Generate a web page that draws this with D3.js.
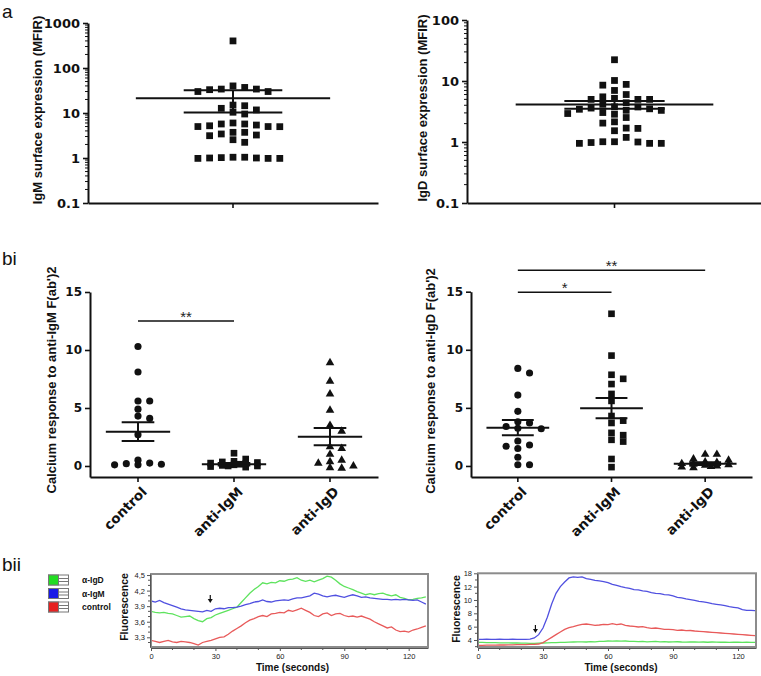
<!DOCTYPE html>
<html><head><meta charset="utf-8">
<script src="https://cdn.jsdelivr.net/npm/d3@7"></script>
<style>
html,body{margin:0;padding:0;background:#fff;}
svg{display:block;}
</style></head><body>
<svg id="fig" width="761" height="676"></svg>
<script>
// ================= DATA =================
// Panel a: surface expression (MFIR), log scale
const igmMFIR = [400, 40, 37, 34, 34, 33, 30, 30, 15, 14.5, 12.7, 11.7, 10.4, 9.5,
  6.0, 5.7, 5.7, 5.4, 5.2, 5.0, 5.0, 4.97, 3.72, 3.72, 3.42, 3.24, 3.13, 2.55, 2.23,
  1.04, 1.04, 1.02, 1.0, 1.0, 0.98, 0.98, 0.98];
const igdMFIR = [22.3, 10.2, 8.8, 8.55, 7.0, 6.0, 5.5, 5.2, 5.0, 5.0, 5.0, 4.4, 4.15,
  3.77, 3.75, 3.6, 3.5, 3.44, 3.31, 3.3, 3.04, 2.93, 2.85, 2.52, 2.14, 2.04, 1.69, 1.67,
  1.53, 1.19, 1.01, 1.01, 1.0, 0.98, 0.95, 0.95, 0.95];
const meanA = [21.2, 4.1];
const semA = [11, 0.6];
const ticksIgM = [0.1, 1, 10, 100, 1000];
const ticksIgD = [0.1, 1, 10, 100];

// Panel bi: calcium responses
const categories = ["control", "anti-IgM", "anti-IgD"];
const biL_control = [10.3, 8.1, 5.6, 5.6, 4.9, 4.3, 4.1, 2.7, 0.5, 0.25, 0.2, 0.15, 0.1, 0.1];
const biL_antiIgM = [1.1, 0.6, 0.4, 0.35, 0.3, 0.25, 0.2, 0.15, 0.1, 0.05, 0.0, 0.0, -0.05, -0.1];
const biL_antiIgD = [8.9, 7.3, 6.2, 4.8, 3.5, 3.0, 1.65, 1.5, 1.0, 0.5, 0.37, 0.23, 0.0, -0.15, -0.2];
const biL_mean = [2.96, 0.15, 2.53];
const biL_sem = [0.8, 0.1, 0.75];
const biR_control = [8.4, 8.0, 6.1, 4.7, 3.8, 3.7, 3.4, 3.25, 3.2, 2.15, 1.8, 1.7, 1.5, 0.75, 0.1, 0.1];
const biR_antiIgM = [13.1, 9.5, 7.85, 7.5, 7.05, 6.2, 5.6, 4.3, 3.9, 3.7, 2.85, 2.65, 2.25, 2.1, 0.6, -0.1];
const biR_antiIgD = [1.0, 1.0, 0.6, 0.5, 0.35, 0.3, 0.2, 0.15, 0.1, 0.05, 0.0, -0.05, -0.1, -0.15];
const biR_mean = [3.3, 4.97, 0.2];
const biR_sem = [0.65, 0.87, 0.12];
const ticksBi = [0, 5, 10, 15];
const sigL = [["control", "anti-IgM", 12.5, "**"]];
const sigR = [["control", "anti-IgM", 14.95, "*"], ["control", "anti-IgD", 16.85, "**"]];

// Panel bii: fluorescence traces
const seconds = [0,2,4,6,8,10,12,14,16,18,20,22,24,26,28,30,32,34,36,38,40,42,44,46,48,50,52,54,56,58,60,62,64,66,68,70,72,74,76,78,80,82,84,86,88,90,92,94,96,98,100,102,104,106,108,110,112,114,116,118,120,122,124,126,128];
const leftIgD = [3.80,3.78,3.77,3.78,3.76,3.75,3.72,3.69,3.70,3.71,3.66,3.62,3.60,3.66,3.68,3.73,3.76,3.79,3.82,3.85,3.88,3.97,4.06,4.15,4.22,4.28,4.35,4.33,4.36,4.35,4.39,4.38,4.41,4.42,4.45,4.40,4.38,4.40,4.37,4.40,4.43,4.48,4.46,4.40,4.33,4.28,4.25,4.22,4.18,4.15,4.12,4.14,4.12,4.14,4.15,4.12,4.10,4.12,4.07,4.05,4.02,4.03,4.05,4.06,4.08];
const leftIgM = [4.00,3.98,4.01,3.97,3.94,3.91,3.88,3.85,3.83,3.82,3.81,3.80,3.79,3.82,3.80,3.85,3.86,3.85,3.87,3.87,3.88,3.90,3.93,3.95,3.98,3.99,4.02,3.99,3.98,4.00,4.01,4.02,4.01,4.04,4.06,4.06,4.08,4.10,4.15,4.13,4.10,4.08,4.10,4.11,4.09,4.07,4.10,4.12,4.10,4.07,4.08,4.06,4.05,4.04,4.03,4.03,4.02,4.03,4.02,4.03,4.02,4.01,4.02,3.98,3.94];
const leftCtrl = [3.24,3.22,3.20,3.22,3.24,3.21,3.20,3.22,3.21,3.20,3.18,3.15,3.20,3.22,3.24,3.27,3.30,3.31,3.36,3.42,3.47,3.52,3.58,3.63,3.66,3.70,3.72,3.70,3.75,3.76,3.78,3.77,3.82,3.80,3.83,3.86,3.82,3.78,3.72,3.70,3.75,3.77,3.72,3.75,3.76,3.72,3.70,3.71,3.69,3.71,3.68,3.65,3.60,3.56,3.52,3.48,3.50,3.44,3.41,3.42,3.40,3.44,3.46,3.49,3.52];
const rightIgD = [3.65,3.63,3.62,3.60,3.60,3.58,3.57,3.56,3.55,3.55,3.54,3.52,3.50,3.50,3.52,3.55,3.58,3.60,3.62,3.63,3.65,3.68,3.70,3.72,3.72,3.70,3.75,3.72,3.80,3.78,3.85,3.82,3.88,3.82,3.85,3.80,3.78,3.75,3.80,3.72,3.75,3.78,3.72,3.75,3.70,3.72,3.74,3.70,3.68,3.72,3.70,3.68,3.70,3.66,3.70,3.68,3.66,3.68,3.65,3.68,3.66,3.65,3.66,3.64,3.65];
const rightIgM = [4.10,4.10,4.12,4.10,4.10,4.12,4.10,4.10,4.12,4.10,4.10,4.10,4.12,4.30,4.80,5.80,7.40,9.40,11.0,12.0,12.7,13.3,13.45,13.4,13.45,13.2,13.1,12.95,12.85,12.75,12.6,12.35,12.2,12.0,11.85,11.75,11.55,11.5,11.35,11.3,11.1,11.0,10.95,10.8,10.75,10.6,10.4,10.3,10.15,10.05,9.95,9.8,9.7,9.6,9.45,9.35,9.25,9.15,9.0,8.9,8.8,8.55,8.45,8.45,8.4];
const rightCtrl = [3.20,3.20,3.22,3.22,3.24,3.25,3.25,3.27,3.28,3.30,3.30,3.32,3.33,3.35,3.40,3.60,4.00,4.40,4.80,5.20,5.60,5.85,6.00,6.20,6.35,6.40,6.30,6.20,6.25,6.35,6.30,6.45,6.30,6.40,6.20,6.10,6.05,5.95,6.00,5.85,5.75,5.80,5.70,5.60,5.60,5.55,5.45,5.50,5.40,5.42,5.35,5.30,5.25,5.20,5.15,5.10,5.05,5.00,4.95,4.90,4.85,4.80,4.75,4.70,4.65];
const legendLabels = ["α-IgD", "α-IgM", "control"];
const ticksBiiLeft = [3.3, 3.6, 3.9, 4.2, 4.5];
const ticksBiiRight = [4, 6, 8, 10, 12, 14];
const tickLabelsBiiRight = ["4", "6", "8", "10", "12", "18"];
const ticksTime = [0, 30, 60, 90, 120];
const arrowLeft = [27.6, 3.96];
const arrowRight = [26.5, 5.05];

// ================= DRAWING =================
const svg = d3.select("#fig");
const ARIAL = "'Liberation Sans', Arial, Helvetica, sans-serif";
const WIDE = "'DejaVu Sans', Verdana, sans-serif";

// column-scatter layout: fill nearest free slot, overlap allowed past maxOff
function swarm(vals, yS, cx, step, cw, ch, maxOff) {
  const placed = [], out = [];
  const cands = [0];
  for (let k = 1; k * step <= maxOff + 1e-6; k++) cands.push(k * step, -k * step);
  vals.forEach(v => {
    const y = yS(v);
    let best = null, bestScore = -1;
    for (const off of cands) {
      let score = Infinity;
      placed.forEach(p => {
        const s = Math.max(Math.abs(p.off - off) / cw, Math.abs(p.y - y) / ch);
        if (s < score) score = s;
      });
      if (score >= 1 - 1e-6) { best = off; break; }
      if (score > bestScore + 1e-6) { bestScore = score; best = off; }
    }
    placed.push({off: best, y});
    out.push({v, x: cx + best, y});
  });
  return out;
}

function panelLabel(txt, x, y) {
  svg.append("text").attr("x", x).attr("y", y).text(txt)
    .attr("font-family", ARIAL).attr("font-size", 19).attr("fill", "#111");
}

function styleAxis(g, fs) {
  g.select(".domain").attr("stroke", "#111").attr("stroke-width", 2);
  g.selectAll(".tick line").attr("stroke", "#111").attr("stroke-width", 1.6);
  g.selectAll(".tick text").attr("font-family", WIDE).attr("font-weight", "bold")
    .attr("font-size", fs).attr("fill", "#111");
}

function scatterPanel(cfg) {
  const y = cfg.y, x = cfg.x;
  const gy = svg.append("g").attr("transform", `translate(${x.range()[0]},0)`)
    .call(d3.axisLeft(y).tickValues(cfg.ticks).tickFormat(d3.format("~g"))
      .tickSize(5).tickSizeOuter(0).tickPadding(3));
  styleAxis(gy, cfg.fs);
  if (cfg.minor) {
    gy.selectAll(".minor").data(cfg.minor).join("line")
      .attr("x1", -3).attr("x2", 0).attr("y1", d => y(d)).attr("y2", d => y(d))
      .attr("stroke", "#111").attr("stroke-width", 1);
  }
  const gx = svg.append("g").attr("transform", `translate(0,${y.range()[0]})`)
    .call(d3.axisBottom(x).tickSize(5).tickSizeOuter(0).tickFormat(""));
  styleAxis(gx, cfg.fs);
  if (cfg.catLabels) {
    gx.selectAll(".tick").append("text")
      .attr("transform", "translate(3,9) rotate(-45)")
      .attr("text-anchor", "end").attr("dy", "0.7em")
      .attr("font-family", WIDE).attr("font-weight", "bold").attr("font-size", 13.5)
      .attr("fill", "#111").text(d => d);
  }
  svg.append("text")
    .attr("transform", `translate(${cfg.labelX},${cfg.labelY}) rotate(-90)`)
    .attr("text-anchor", "middle").attr("font-family", ARIAL).attr("font-weight", "bold")
    .attr("font-size", 13).attr("fill", "#111").text(cfg.label);

  const bw = x.bandwidth();
  cfg.groups.forEach((vals, i) => {
    const cx = x(x.domain()[i]) + bw / 2;
    const pts = swarm(vals, y, cx, 5.85, 11.2, cfg.ch, cfg.maxOff);
    const sym = d3.symbol().type(cfg.symbols[i]).size(cfg.sizes[i]);
    svg.append("g").selectAll("path").data(pts).join("path")
      .attr("transform", d => `translate(${d.x},${d.y})`).attr("d", sym).attr("fill", "#111");
    const m = cfg.means[i], s = cfg.sems[i];
    const mw = bw * 0.335, sw = bw * 0.17;
    const g = svg.append("g").attr("stroke", "#111").attr("stroke-width", 2);
    g.append("line").attr("x1", cx - mw).attr("x2", cx + mw).attr("y1", y(m)).attr("y2", y(m));
    g.append("line").attr("x1", cx - sw).attr("x2", cx + sw).attr("y1", y(m + s)).attr("y2", y(m + s));
    g.append("line").attr("x1", cx - sw).attr("x2", cx + sw).attr("y1", y(m - s)).attr("y2", y(m - s));
    g.append("line").attr("x1", cx).attr("x2", cx).attr("y1", y(m + s)).attr("y2", y(m - s));
  });
  if (cfg.sig) {
    cfg.sig.forEach(([a, b, lv, lab]) => {
      const xa = x(a) + bw / 2, xb = x(b) + bw / 2;
      svg.append("line").attr("x1", xa).attr("x2", xb).attr("y1", y(lv)).attr("y2", y(lv))
        .attr("stroke", "#111").attr("stroke-width", 1.6);
      svg.append("text").attr("x", (xa + xb) / 2).attr("y", y(lv) + 1)
        .attr("text-anchor", "middle").attr("font-family", ARIAL).attr("font-size", 15)
        .attr("fill", "#222").text(lab);
    });
  }
}

// ---- Panel a ----
panelLabel("a", 2, 17.5);
{
  const yL = d3.scaleLog().domain([0.1, 1000]).range([203, 23]);
  scatterPanel({
    y: yL, x: d3.scaleBand().domain(["IgM"]).range([88, 378]),
    ticks: ticksIgM, minor: yL.ticks().filter(d => !ticksIgM.includes(d)), fs: 13,
    label: "IgM surface expression (MFIR)", labelX: 42, labelY: 110,
    groups: [igmMFIR], symbols: [d3.symbolSquare], sizes: [46],
    means: [meanA[0]], sems: [semA[0]], ch: 6.8, maxOff: 48
  });
  const yR = d3.scaleLog().domain([0.1, 100]).range([203, 20]);
  scatterPanel({
    y: yR, x: d3.scaleBand().domain(["IgD"]).range([467, 762]),
    ticks: ticksIgD, minor: yR.ticks().filter(d => !ticksIgD.includes(d)), fs: 13,
    label: "IgD surface expression (MFIR)", labelX: 427, labelY: 108,
    groups: [igdMFIR], symbols: [d3.symbolSquare], sizes: [46],
    means: [meanA[1]], sems: [semA[1]], ch: 6.8, maxOff: 53
  });
}

// ---- Panel bi ----
panelLabel("bi", 2, 265);
{
  const yB = d3.scaleLinear().domain([-0.95, 15]).range([477, 292]);
  scatterPanel({
    y: yB, x: d3.scaleBand().domain(categories).range([90, 378]),
    ticks: ticksBi, fs: 12, catLabels: true,
    label: "Calcium response to anti-IgM F(ab')2", labelX: 55.5, labelY: 380,
    groups: [biL_control, biL_antiIgM, biL_antiIgD],
    symbols: [d3.symbolCircle, d3.symbolSquare, d3.symbolTriangle], sizes: [40, 44, 32],
    means: biL_mean, sems: biL_sem, sig: sigL, ch: 6, maxOff: 26
  });
  const yB2 = d3.scaleLinear().domain([-0.95, 15]).range([477, 291.7]);
  scatterPanel({
    y: yB2, x: d3.scaleBand().domain(categories).range([471, 752]),
    ticks: ticksBi, fs: 12, catLabels: true,
    label: "Calcium response to anti-IgD F(ab')2", labelX: 435, labelY: 381,
    groups: [biR_control, biR_antiIgM, biR_antiIgD],
    symbols: [d3.symbolCircle, d3.symbolSquare, d3.symbolTriangle], sizes: [40, 44, 32],
    means: biR_mean, sems: biR_sem, sig: sigR, ch: 6, maxOff: 26
  });
}

// ---- Panel bii ----
panelLabel("bii", 2, 571);
const traceColors = ["#5ee35e", "#5050e0", "#e85a5a"];
const legendColors = ["#22dd22", "#1a1ae6", "#e62222"];
function tracePanel(cfg) {
  const x = cfg.x, y = cfg.y;
  const [x0, x1] = x.range(), [yb, yt] = y.range();
  svg.append("rect").attr("x", x0).attr("y", yt).attr("width", x1 - x0).attr("height", yb - yt)
    .attr("fill", "#fff").attr("stroke", "#8c8c8c").attr("stroke-width", 2);
  const clipId = "clip" + cfg.id;
  svg.append("clipPath").attr("id", clipId).append("rect")
    .attr("x", x0 + 1).attr("y", yt + 1).attr("width", x1 - x0 - 2).attr("height", yb - yt - 2);
  const line = d3.line().x((d, i) => x(seconds[i])).y(d => y(d));
  const g = svg.append("g").attr("clip-path", `url(#${clipId})`);
  cfg.series.forEach((s, i) => {
    g.append("path").datum(s).attr("d", line).attr("fill", "none")
      .attr("stroke", traceColors[i]).attr("stroke-width", 1.3);
  });
  // axes
  const gx = svg.append("g").attr("transform", `translate(0,${yb + 1})`)
    .call(d3.axisBottom(x).tickValues(ticksTime).tickSize(3).tickSizeOuter(0).tickPadding(3));
  const gy = svg.append("g").attr("transform", `translate(${x0 - 1},0)`)
    .call(d3.axisLeft(y).tickValues(cfg.yTicks).tickSize(3).tickSizeOuter(0).tickPadding(2)
      .tickFormat((d, i) => cfg.yLabels[i]));
  [gx, gy].forEach(g2 => {
    g2.select(".domain").attr("stroke", "#555").attr("stroke-width", 1);
    g2.selectAll(".tick line").attr("stroke", "#555");
    g2.selectAll(".tick text").attr("font-family", ARIAL).attr("font-size", 7.5).attr("fill", "#222");
  });
  gx.selectAll(".mt").data(cfg.xMinor).join("line")
    .attr("x1", d => x(d)).attr("x2", d => x(d)).attr("y1", 0).attr("y2", 2).attr("stroke", "#555");
  gy.selectAll(".mt").data(cfg.yMinor).join("line")
    .attr("y1", d => y(d)).attr("y2", d => y(d)).attr("x1", 0).attr("x2", -2).attr("stroke", "#555");
  // titles
  svg.append("text").attr("transform", `translate(${cfg.fx},${cfg.fy}) rotate(-90)`)
    .attr("text-anchor", "middle").attr("font-family", ARIAL).attr("font-weight", "bold")
    .attr("font-size", 10.5).attr("fill", "#111").text("Fluorescence");
  svg.append("text").attr("x", cfg.tx).attr("y", cfg.ty).attr("text-anchor", "middle")
    .attr("font-family", ARIAL).attr("font-weight", "bold").attr("font-size", 10)
    .attr("fill", "#111").text("Time (seconds)");
  // arrow
  const ax = x(cfg.arrow[0]), ay = y(cfg.arrow[1]);
  svg.append("line").attr("x1", ax).attr("x2", ax).attr("y1", ay - 8).attr("y2", ay - 3)
    .attr("stroke", "#111").attr("stroke-width", 1.2);
  svg.append("path").attr("d", `M${ax - 2.5},${ay - 4}L${ax + 2.5},${ay - 4}L${ax},${ay}Z`).attr("fill", "#111");
}

{
  const xL = d3.scaleLinear().domain([0, 129]).range([151, 428]);
  const yL = d3.scaleLinear().domain([3.113, 4.52]).range([647, 574]);
  tracePanel({
    id: "L", x: xL, y: yL, series: [leftIgD, leftIgM, leftCtrl],
    yTicks: ticksBiiLeft, yLabels: ticksBiiLeft.map(d => d3.format(".1f")(d).replace(".", ",")),
    xMinor: xL.ticks(13).filter(d => !ticksTime.includes(d)),
    yMinor: yL.ticks(14).filter(d => !ticksBiiLeft.some(t => Math.abs(t - d) < 1e-6)),
    fx: 128, fy: 607, tx: 292.5, ty: 671, arrow: arrowLeft
  });
  const xR = d3.scaleLinear().domain([0, 128.3]).range([478, 756]);
  const yR = d3.scaleLinear().domain([2.95, 14]).range([647, 573.3]);
  tracePanel({
    id: "R", x: xR, y: yR, series: [rightIgD, rightIgM, rightCtrl],
    yTicks: ticksBiiRight, yLabels: tickLabelsBiiRight,
    xMinor: xR.ticks(13).filter(d => !ticksTime.includes(d)),
    yMinor: yR.ticks(11).filter(d => !ticksBiiRight.includes(d)),
    fx: 459.5, fy: 609, tx: 621, ty: 671, arrow: arrowRight
  });
}

// legend
{
  const lg = svg.append("g");
  legendLabels.forEach((lab, i) => {
    const yy = 575 + i * 13.5;
    lg.append("rect").attr("x", 48.5).attr("y", yy).attr("width", 20).attr("height", 10)
      .attr("fill", "#fff").attr("stroke", "#777").attr("stroke-width", 1);
    lg.append("rect").attr("x", 48.5).attr("y", yy).attr("width", 10).attr("height", 10)
      .attr("fill", legendColors[i]).attr("stroke", "#777").attr("stroke-width", 1);
    lg.append("line").attr("x1", 58.5).attr("x2", 68.5).attr("y1", yy + 3.5).attr("y2", yy + 3.5).attr("stroke", "#777");
    lg.append("line").attr("x1", 58.5).attr("x2", 68.5).attr("y1", yy + 6.5).attr("y2", yy + 6.5).attr("stroke", "#777");
    lg.append("text").attr("x", 82).attr("y", yy + 8).attr("font-family", ARIAL)
      .attr("font-weight", "bold").attr("font-size", 8.5).attr("fill", "#111").text(lab);
  });
}
</script>
</body></html>
